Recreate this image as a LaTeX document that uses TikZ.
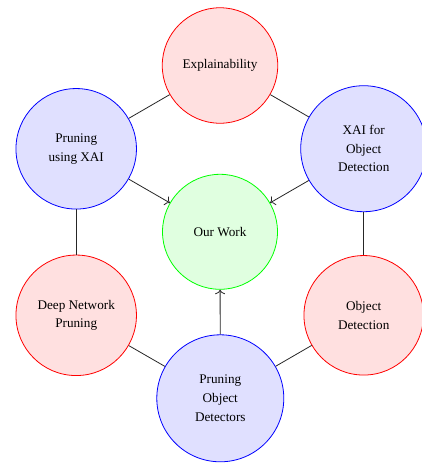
\documentclass[tikz,border=0pt]{standalone}
\usepackage{fontspec}
\setmainfont{Liberation Serif}
\usetikzlibrary{arrows.meta}
\begin{document}
\begin{tikzpicture}[x=1pt,y=-1pt,
  topic/.style={circle, inner sep=0pt, align=center, line width=0.8pt,
    font=\fontsize{13.2}{18.7}\selectfont},
  redtopic/.style={topic, draw=red, fill=red!12},
  bluetopic/.style={topic, draw=blue, fill=blue!12},
  greentopic/.style={topic, draw=green, fill=green!12},
  link/.style={line width=0.8pt, black!85},
  arr/.style={link, -{To[length=4.5pt,width=10pt]}}
]
\useasboundingbox (0,0) rectangle (422,466);
\node[redtopic, minimum size=115.5pt] (expl) at (220,65.5) {Explainability};
\node[greentopic, minimum size=115pt] (our) at (220,231.8) {Our Work};
\node[bluetopic, minimum size=120.5pt] (pxai) at (76.2,148.8) {Pruning\\using XAI};
\node[bluetopic, minimum size=126pt] (xaiod) at (363.7,148.7) {XAI for\\Object\\Detection};
\node[redtopic, minimum size=120.5pt] (dnp) at (76.2,315.3) {Deep Network\\Pruning};
\node[redtopic, minimum size=119.5pt] (od) at (363.7,315.3) {Object\\Detection};
\node[bluetopic, minimum size=127pt] (pod) at (220.3,398.3) {Pruning\\Object\\Detectors};
\draw[link] (expl) -- (pxai);
\draw[link] (expl) -- (xaiod);
\draw[link] (pxai) -- (dnp);
\draw[link] (xaiod) -- (od);
\draw[link] (dnp) -- (pod);
\draw[link] (od) -- (pod);
\draw[arr] (pxai) -- (our);
\draw[arr] (xaiod) -- (our);
\draw[arr] (pod) -- (our);
\end{tikzpicture}
\end{document}
